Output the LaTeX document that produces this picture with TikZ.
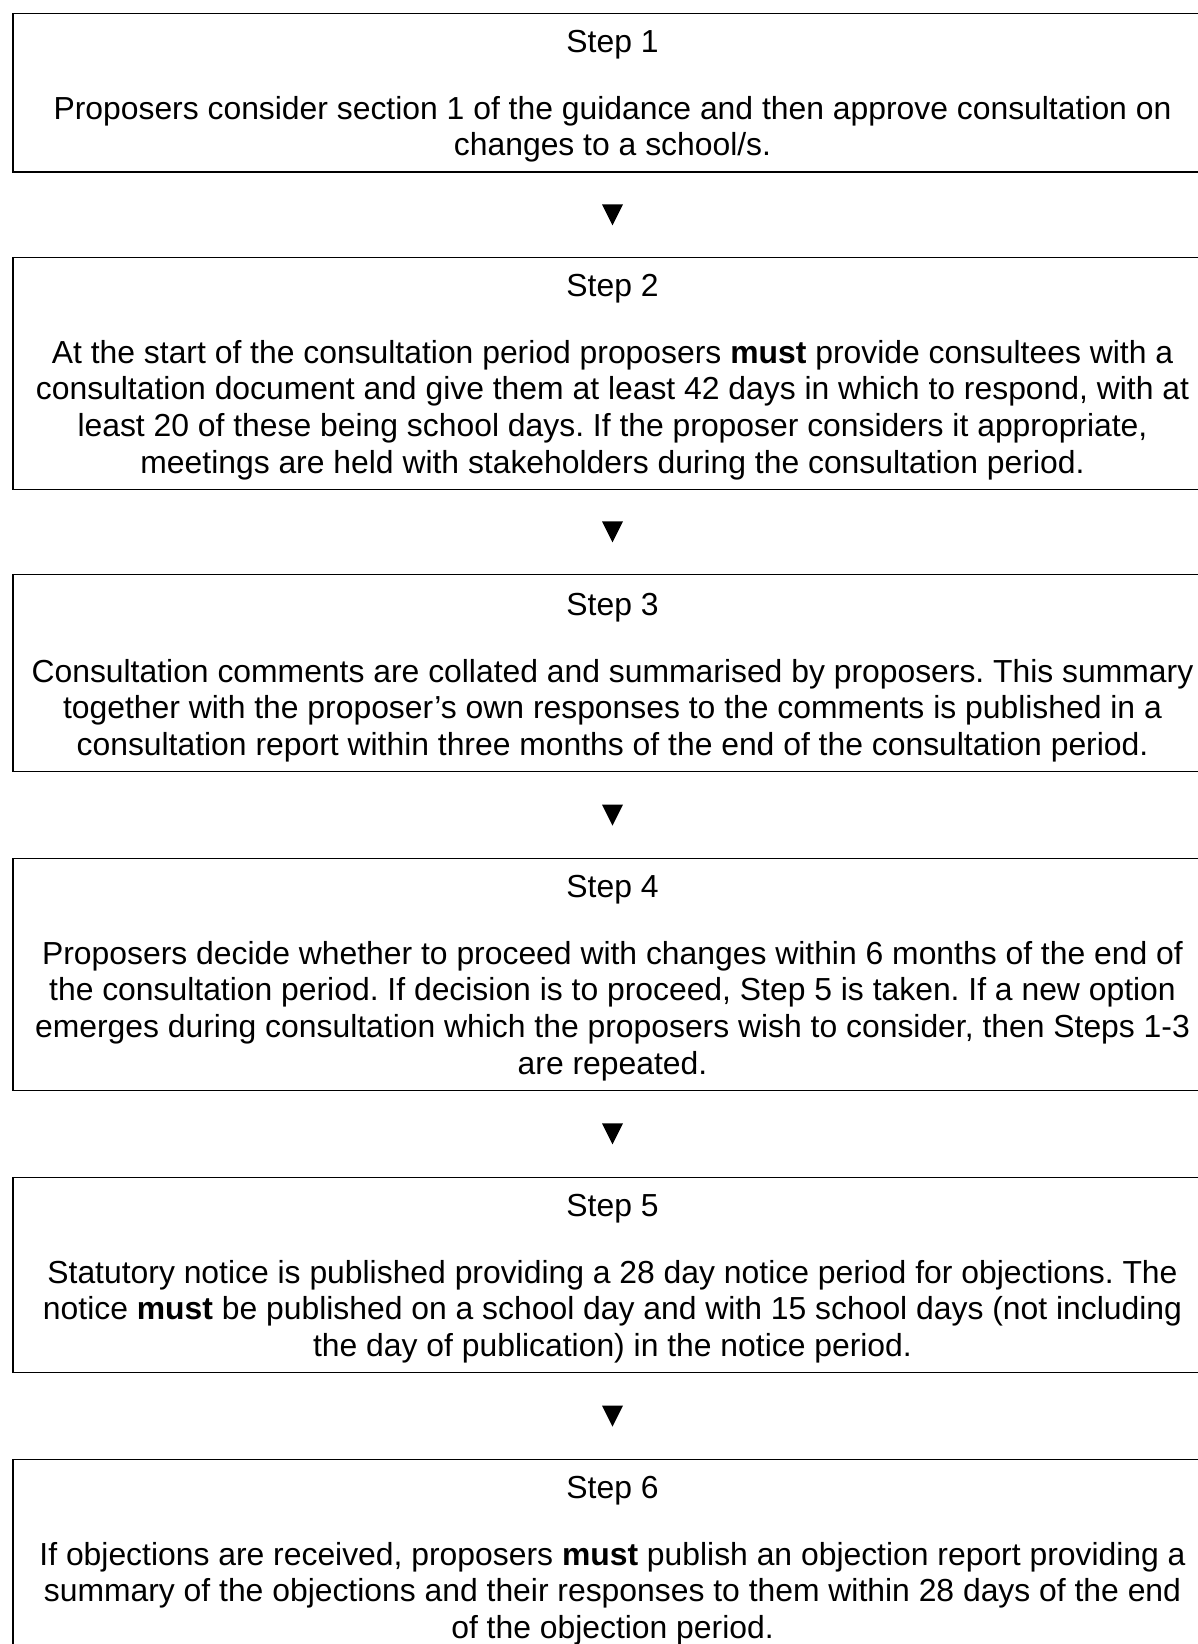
\documentclass[tikz,border=0pt]{standalone}
\usepackage{fontspec}
\setmainfont{Liberation Sans}
\usetikzlibrary{calc}
\frenchspacing
\newlength{\pxu}\setlength{\pxu}{0.75pt}
\newcommand{\topstrut}{\rule{0pt}{39\pxu}}
\newcommand{\botstrut}{\rule[-16\pxu]{0pt}{16\pxu}}
\newcommand{\gapline}{\\[22.45pt]}
\begin{document}
\begin{tikzpicture}[x=0.75pt,y=-0.75pt,
  stepbox/.style={draw, line width=1pt, inner sep=0pt, minimum width=1199\pxu,
    align=center, anchor=north, font=\fontsize{23.9pt}{27.5pt}\selectfont},
  tri/.style={fill=black}]
\useasboundingbox (0,0) rectangle (1198,1644);
\clip (0,0) rectangle (1198,1644);

\node[stepbox] (s1) at (612.5,13) {\topstrut Step 1\gapline
Proposers consider section 1 of the guidance and then approve consultation on\\
changes to a school/s.\botstrut};

\node[stepbox] (s2) at (612.5,257) {\topstrut Step 2\gapline
At the start of the consultation period proposers \textbf{must} provide consultees with a\\
consultation document and give them at least 42 days in which to respond, with at\\
least 20 of these being school days. If the proposer considers it appropriate,\\
meetings are held with stakeholders during the consultation period.\botstrut};

\node[stepbox] (s3) at (612.5,574) {\rule{0pt}{41\pxu}Step 3\gapline
Consultation comments are collated and summarised by proposers. This summary\\
together with the proposer’s own responses to the comments is published in a\\
consultation report within three months of the end of the consultation period.\botstrut};

\node[stepbox] (s4) at (612.5,858) {\topstrut Step 4\gapline
Proposers decide whether to proceed with changes within 6 months of the end of\\
the consultation period. If decision is to proceed, Step 5 is taken. If a new option\\
emerges during consultation which the proposers wish to consider, then Steps 1-3\\
are repeated.\botstrut};

\node[stepbox] (s5) at (612.5,1177) {\topstrut Step 5\gapline
Statutory notice is published providing a 28 day notice period for objections. The\\
notice \textbf{must} be published on a school day and with 15 school days (not including\\
the day of publication) in the notice period.\botstrut};

\node[stepbox] (s6) at (612.5,1459) {\topstrut Step 6\gapline
If objections are received, proposers \textbf{must} publish an objection report providing a\\
summary of the objections and their responses to them within 28 days of the end\\
of the objection period.\rule[-40\pxu]{0pt}{40\pxu}};

\foreach \i/\j in {1/2,2/3,3/4,4/5,5/6}{
  \coordinate (a\i) at ($(s\i.south)!0.5!(s\j.north)$);
  \fill[tri, shift={(a\i)}] (-10.5,-10.5) -- (10.5,-10.5) -- (0,10.5) -- cycle;
}
\end{tikzpicture}
\end{document}
